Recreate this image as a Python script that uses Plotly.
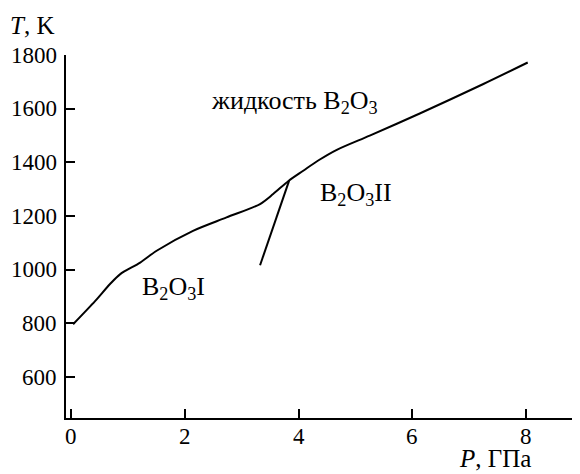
import plotly.graph_objects as go

# Liquidus curve (melting line of B2O3)
liquidus_P = [0.03, 0.42, 0.68, 0.86, 1.21, 1.50, 2.14, 2.73, 3.32, 3.55, 3.82, 4.08, 4.35, 4.67, 5.25, 6.13, 7.25, 8.03]
liquidus_T = [797, 884, 947, 984, 1027, 1071, 1145, 1195, 1245, 1282, 1331, 1369, 1408, 1447, 1500, 1582, 1692, 1772]

# Phase boundary B2O3 I / B2O3 II
boundary_P = [3.32, 3.83]
boundary_T = [1017, 1331]

x_ticks = [0, 2, 4, 6, 8]
x_tick_labels = ["0", "2", "4", "6", "8"]
y_ticks = [600, 800, 1000, 1200, 1400, 1600, 1800]
y_tick_labels = ["600", "800", "1000", "1200", "1400", "1600", "1800"]

labels = [
    ("жидкость B<sub>2</sub>O<sub>3</sub>", 3.93, 1626),
    ("B<sub>2</sub>O<sub>3</sub>II", 5.0, 1283),
    ("B<sub>2</sub>O<sub>3</sub>I", 1.79, 933),
]

FONT = "Liberation Serif"
TICKFONT = dict(family=FONT, size=23, color="black")
LABELFONT = dict(family=FONT, size=26, color="black")
AXFONT = dict(family=FONT, size=25, color="black")

fig = go.Figure()
fig.add_trace(go.Scatter(x=liquidus_P, y=liquidus_T, mode="lines",
                         line=dict(color="black", width=2, shape="spline", smoothing=0.8),
                         showlegend=False))
fig.add_trace(go.Scatter(x=boundary_P, y=boundary_T, mode="lines",
                         line=dict(color="black", width=2), showlegend=False))

for text, px, py in labels:
    fig.add_annotation(x=px, y=py, text=text, showarrow=False, font=LABELFONT)

# tick labels drawn as text at the axis tick values
for v, t in zip(x_ticks, x_tick_labels):
    fig.add_annotation(x=v, xref="x", y=0, yref="paper", yshift=-18,
                       xanchor="center", yanchor="middle",
                       text=t, showarrow=False, font=TICKFONT)
for v, t in zip(y_ticks, y_tick_labels):
    fig.add_annotation(x=0, xref="paper", y=v, yref="y", xshift=-7,
                       xanchor="right", yanchor="middle",
                       text=t, showarrow=False, font=TICKFONT)

fig.add_annotation(xref="paper", yref="paper", x=-0.113, y=1.0, yshift=30,
                   xanchor="left", yanchor="middle",
                   text="<i>T</i>, K", showarrow=False, font=AXFONT)
fig.add_annotation(xref="paper", yref="paper", x=0.9086, y=0, yshift=-56,
                   xanchor="right", yanchor="bottom",
                   text="<i>P</i>, ГПа", showarrow=False, font=AXFONT)

fig.update_layout(
    width=572, height=466,
    margin=dict(l=58, r=0, t=47, b=56),
    plot_bgcolor="white", paper_bgcolor="white",
    font=dict(family=FONT, size=23, color="black"),
    xaxis=dict(range=[-0.095, 8.95], tickvals=x_ticks, ticks="inside", ticklen=9,
               tickwidth=2, tickcolor="black", showline=True, linecolor="black",
               linewidth=2, showgrid=False, zeroline=False, showticklabels=False,
               automargin=False),
    yaxis=dict(range=[448, 1800], tickvals=y_ticks, ticks="inside", ticklen=9,
               tickwidth=2, tickcolor="black", showline=True, linecolor="black",
               linewidth=2, showgrid=False, zeroline=False, showticklabels=False,
               automargin=False),
)

fig.write_html("out.html")
